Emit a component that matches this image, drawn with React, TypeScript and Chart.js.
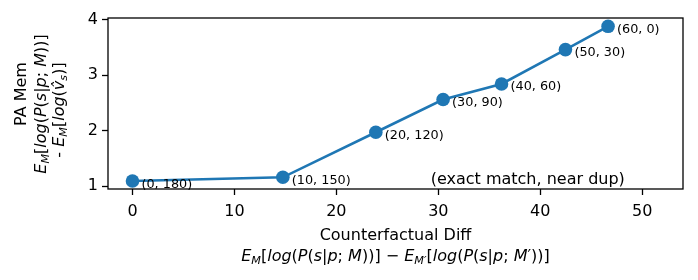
import React, { useEffect, useRef } from 'react';
import { Chart, registerables } from 'chart.js';

Chart.register(...registerables);

// ---- data ----
const xValues = [0, 14.75, 23.87, 30.47, 36.2, 42.47, 46.65];
const yValues = [1.09, 1.157, 1.97, 2.56, 2.84, 3.46, 3.88];
const pointLabels = ['(0, 180)', '(10, 150)', '(20, 120)', '(30, 90)', '(40, 60)', '(50, 30)', '(60, 0)'];
const xTicks = [0, 10, 20, 30, 40, 50];
const yTicks = [1, 2, 3, 4];
const xRange = [-2.4, 54];
const yRange = [0.946, 4.03];
const noteText = '(exact match, near dup)';
const xTitle1 = 'Counterfactual Diff';
const yTitle1 = 'PA Mem';

type Seg = { t: string; it?: boolean; sub?: boolean; sup?: boolean };

const emLogP = (prime: boolean): Seg[] => [
  { t: 'E', it: true },
  { t: prime ? 'M′' : 'M', it: true, sub: true },
  { t: '[' },
  { t: 'log', it: true },
  { t: '(' },
  { t: 'P', it: true },
  { t: '(' },
  { t: 's', it: true },
  { t: '|' },
  { t: 'p', it: true },
  { t: '; ' },
  { t: 'M', it: true },
  ...(prime ? [{ t: '′' } as Seg] : []),
  { t: '))]' },
];

const xTitle2: Seg[] = [...emLogP(false), { t: ' − ' }, ...emLogP(true)];
const yTitle2: Seg[] = emLogP(false);
const yTitle3: Seg[] = [
  { t: '- ' },
  { t: 'E', it: true },
  { t: 'M', it: true, sub: true },
  { t: '[' },
  { t: 'log', it: true },
  { t: '(' },
  { t: 'v\u0302', it: true },
  { t: 's', it: true, sub: true },
  { t: ')]' },
];

const FAMILY = '"DejaVu Sans", sans-serif';

function fontFor(seg: Seg, size: number) {
  const s = seg.sub || seg.sup ? size * 0.7 : size;
  return `${seg.it ? 'italic ' : ''}${s}px ${FAMILY}`;
}

function drawRich(ctx: CanvasRenderingContext2D, segs: Seg[], cx: number, cy: number, size: number) {
  ctx.save();
  ctx.textBaseline = 'alphabetic';
  ctx.textAlign = 'left';
  let total = 0;
  const widths = segs.map((s) => {
    ctx.font = fontFor(s, size);
    const w = ctx.measureText(s.t).width;
    total += w;
    return w;
  });
  let x = cx - total / 2;
  const base = cy + size * 0.36;
  segs.forEach((s, i) => {
    ctx.font = fontFor(s, size);
    const dy = s.sub ? size * 0.22 : s.sup ? -size * 0.35 : 0;
    ctx.fillText(s.t, x, base + dy);
    x += widths[i];
  });
  ctx.restore();
}

const decorPlugin = {
  id: 'decor',
  afterDraw(chart: any) {
    const { ctx, chartArea } = chart;
    const xs = chart.scales.x;
    const ys = chart.scales.y;
    ctx.save();
    // box spines
    ctx.strokeStyle = '#000';
    ctx.lineWidth = 1.3;
    ctx.strokeRect(chartArea.left, chartArea.top, chartArea.right - chartArea.left, chartArea.bottom - chartArea.top);

    // point annotations
    ctx.fillStyle = '#000';
    ctx.font = `12.8px ${FAMILY}`;
    ctx.textAlign = 'left';
    ctx.textBaseline = 'alphabetic';
    xValues.forEach((xv, i) => {
      const px = xs.getPixelForValue(xv);
      const py = ys.getPixelForValue(yValues[i]);
      ctx.fillText(pointLabels[i], px + 9, py + 6.5);
    });

    // note text
    ctx.font = `16px ${FAMILY}`;
    ctx.textAlign = 'center';
    ctx.textBaseline = 'alphabetic';
    const nx = chartArea.left + (chartArea.right - chartArea.left) * 0.73;
    ctx.fillText(noteText, nx, chartArea.bottom - 5);

    // x title
    const xc = (chartArea.left + chartArea.right) / 2;
    ctx.font = `16px ${FAMILY}`;
    ctx.textAlign = 'center';
    ctx.textBaseline = 'middle';
    ctx.fillText(xTitle1, xc, 236);
    drawRich(ctx, xTitle2, xc, 255, 16);

    // y title (rotated)
    ctx.save();
    ctx.translate(22, 94);
    ctx.rotate(-Math.PI / 2);
    ctx.font = `16px ${FAMILY}`;
    ctx.textAlign = 'center';
    ctx.textBaseline = 'middle';
    ctx.fillText(yTitle1, 0, 0);
    ctx.restore();

    ctx.save();
    ctx.translate(40, 104);
    ctx.rotate(-Math.PI / 2);
    drawRich(ctx, yTitle2, 0, 0, 16);
    ctx.restore();

    ctx.save();
    ctx.translate(58, 110);
    ctx.rotate(-Math.PI / 2);
    drawRich(ctx, yTitle3, 0, 0, 16);
    ctx.restore();

    ctx.restore();
  },
};

export default function App() {
  const ref = useRef<HTMLCanvasElement | null>(null);

  useEffect(() => {
    if (!ref.current) return;
    const chart = new Chart(ref.current, {
      type: 'scatter',
      data: {
        datasets: [
          {
            data: xValues.map((x, i) => ({ x, y: yValues[i] })),
            showLine: true,
            borderColor: '#1f77b4',
            backgroundColor: '#1f77b4',
            borderWidth: 2.6,
            pointRadius: 6.8,
            pointBorderWidth: 0,
            pointBackgroundColor: '#1f77b4',
            clip: false as any,
          },
        ],
      },
      options: {
        responsive: false,
        animation: false,
        events: [],
        layout: { padding: { left: 0, top: 18, right: 15, bottom: 0 } },
        plugins: {
          legend: { display: false },
          tooltip: { enabled: false },
        },
        scales: {
          x: {
            type: 'linear',
            min: xRange[0],
            max: xRange[1],
            afterBuildTicks: (s: any) => {
              s.ticks = xTicks.map((v) => ({ value: v }));
            },
            afterFit: (s: any) => {
              s.height = 91;
            },
            grid: {
              display: true,
              drawOnChartArea: false,
              drawTicks: true,
              tickLength: 6,
              tickWidth: 1.3,
              tickColor: '#000',
            },
            border: { display: false },
            ticks: {
              color: '#000',
              font: { family: FAMILY, size: 16 },
              padding: 7,
              maxRotation: 0,
              autoSkip: false,
            },
          },
          y: {
            type: 'linear',
            min: yRange[0],
            max: yRange[1],
            afterBuildTicks: (s: any) => {
              s.ticks = yTicks.map((v) => ({ value: v }));
            },
            afterFit: (s: any) => {
              s.width = 108;
            },
            grid: {
              display: true,
              drawOnChartArea: false,
              drawTicks: true,
              tickLength: 6,
              tickWidth: 1.3,
              tickColor: '#000',
            },
            border: { display: false },
            ticks: {
              color: '#000',
              font: { family: FAMILY, size: 16 },
              padding: 4,
              autoSkip: false,
            },
          },
        },
      },
      plugins: [decorPlugin],
    });
    return () => chart.destroy();
  }, []);

  return (
    <div style={{ position: 'fixed', left: 0, top: 0, width: 698, height: 280, background: '#fff' }}>
      <canvas ref={ref} width={698} height={280} style={{ width: 698, height: 280, display: 'block' }} />
    </div>
  );
}
